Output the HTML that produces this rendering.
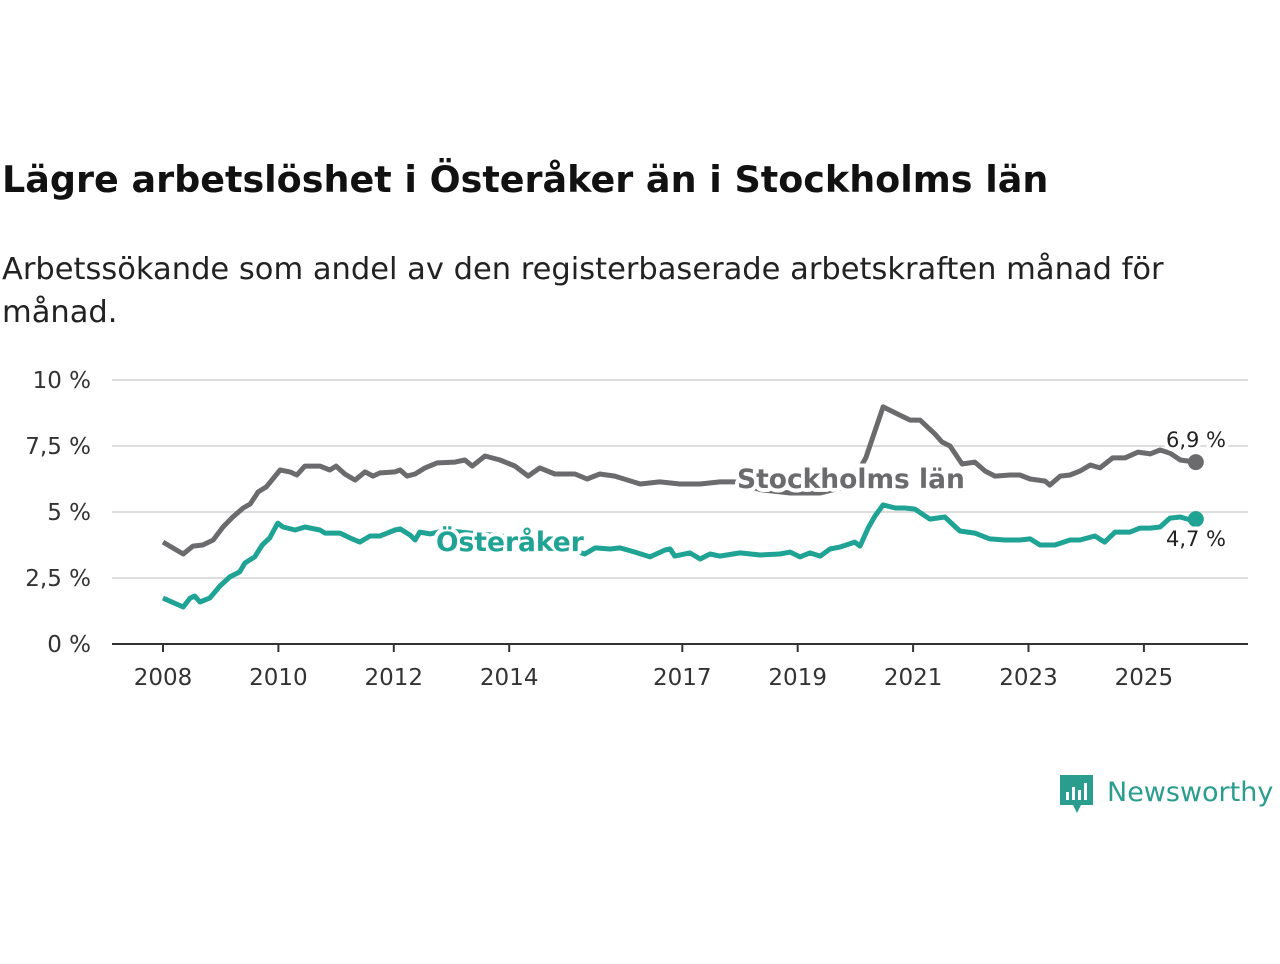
<!DOCTYPE html>
<html><head><meta charset="utf-8"><style>
body{margin:0;width:1280px;height:960px;background:#fff;font-family:"DejaVu Sans","Liberation Sans",sans-serif;overflow:hidden}
</style></head><body>
<svg width="1280" height="960" id="chart" font-family="DejaVu Sans, Liberation Sans, sans-serif">
<text x="2" y="192" font-size="36.5" font-weight="bold" fill="#111">Lägre arbetslöshet i Österåker än i Stockholms län</text>
<text font-size="30.5" fill="#222"><tspan x="2" y="279">Arbetssökande som andel av den registerbaserade arbetskraften månad för</tspan><tspan x="2" y="322">månad.</tspan></text>
<g id="grid"></g><g id="xaxis"></g><g id="lines"></g><g id="labels"></g>
<g transform="translate(1060,775)">
<path d="M0 0h33v30h-12l-4 8-4-8h-13z" fill="#2a9d8f"/>
<rect x="6" y="17" width="3" height="8" fill="#fff"/><rect x="12" y="12" width="3" height="13" fill="#fff"/><rect x="18" y="15" width="3" height="10" fill="#fff"/><rect x="24" y="8" width="3" height="17" fill="#fff"/>
<text x="47" y="26" font-size="27" fill="#2a9d8f">Newsworthy</text></g>
</svg>
<script>
const yTicks=[0,2.5,5,7.5,10];
const yTickLabels=["0 %","2,5 %","5 %","7,5 %","10 %"];
const xTicks=[2008,2010,2012,2014,2017,2019,2021,2023,2025];
const sthlmDates=[2008.00,2008.35,2008.52,2008.69,2008.87,2009.04,2009.21,2009.39,2009.51,2009.65,2009.79,2010.03,2010.20,2010.32,2010.46,2010.72,2010.89,2011.00,2011.15,2011.33,2011.50,2011.64,2011.76,2012.02,2012.11,2012.23,2012.37,2012.54,2012.75,2013.06,2013.23,2013.36,2013.58,2013.84,2014.10,2014.33,2014.53,2014.79,2015.14,2015.35,2015.57,2015.83,2016.27,2016.61,2016.96,2017.31,2017.65,2017.91,2018.35,2018.87,2019.39,2019.91,2020.18,2020.48,2020.77,2020.95,2021.12,2021.38,2021.50,2021.64,2021.85,2022.07,2022.25,2022.42,2022.68,2022.85,2023.03,2023.29,2023.37,2023.55,2023.72,2023.89,2024.07,2024.24,2024.46,2024.67,2024.90,2025.11,2025.28,2025.45,2025.63,2025.90];
const sthlmValues=[3.86,3.41,3.71,3.75,3.94,4.43,4.81,5.15,5.30,5.76,5.95,6.59,6.52,6.40,6.74,6.74,6.59,6.74,6.44,6.21,6.52,6.36,6.48,6.52,6.59,6.36,6.44,6.67,6.86,6.89,6.97,6.74,7.12,6.97,6.74,6.36,6.67,6.44,6.44,6.25,6.44,6.36,6.06,6.14,6.06,6.06,6.14,6.14,5.85,5.72,5.72,6.0,7.05,8.98,8.67,8.48,8.48,7.95,7.65,7.5,6.82,6.89,6.55,6.36,6.40,6.40,6.25,6.17,6.02,6.36,6.40,6.55,6.78,6.67,7.05,7.05,7.27,7.20,7.35,7.23,6.97,6.89];
const ostDates=[2008.00,2008.35,2008.47,2008.55,2008.64,2008.81,2008.99,2009.16,2009.33,2009.42,2009.59,2009.72,2009.85,2009.99,2010.08,2010.29,2010.46,2010.72,2010.81,2011.07,2011.24,2011.41,2011.59,2011.76,2012.02,2012.11,2012.28,2012.37,2012.45,2012.63,2012.89,2013.32,2013.84,2014.36,2014.88,2015.31,2015.49,2015.75,2015.92,2016.18,2016.44,2016.70,2016.79,2016.87,2017.13,2017.31,2017.48,2017.65,2018.00,2018.35,2018.69,2018.87,2019.04,2019.21,2019.39,2019.56,2019.73,2019.99,2020.08,2020.22,2020.34,2020.48,2020.69,2020.86,2021.03,2021.29,2021.55,2021.81,2022.07,2022.33,2022.59,2022.85,2023.03,2023.20,2023.46,2023.72,2023.89,2024.15,2024.32,2024.50,2024.76,2024.93,2025.11,2025.28,2025.45,2025.63,2025.80,2025.90];
const ostValues=[1.74,1.40,1.74,1.82,1.59,1.74,2.20,2.54,2.73,3.07,3.30,3.75,4.02,4.58,4.43,4.32,4.43,4.32,4.20,4.20,4.02,3.86,4.09,4.09,4.32,4.36,4.13,3.94,4.24,4.17,4.3,4.2,4.1,3.9,3.7,3.41,3.64,3.60,3.64,3.48,3.30,3.56,3.60,3.33,3.45,3.22,3.41,3.33,3.45,3.37,3.41,3.48,3.30,3.45,3.33,3.60,3.67,3.86,3.71,4.39,4.85,5.27,5.15,5.15,5.11,4.73,4.81,4.28,4.20,3.98,3.94,3.94,3.98,3.75,3.75,3.94,3.94,4.09,3.86,4.24,4.24,4.39,4.39,4.43,4.77,4.81,4.70,4.73];
const NS="http://www.w3.org/2000/svg";
const X=y=>163+(y-2008)*57.7, Y=v=>644-v*26.4;
function mk(tag,attrs,parent,text){const e=document.createElementNS(NS,tag);for(const k in attrs)e.setAttribute(k,attrs[k]);if(text!==undefined)e.textContent=text;document.getElementById(parent).appendChild(e);return e;}
yTicks.forEach((t,i)=>{
 const l=mk('line',{x1:112,x2:1248,y1:Y(t),y2:Y(t),stroke:t===0?'#333':'#ddd','stroke-width':2},'grid');
 
 
 const tx=mk('text',{x:91,y:Y(t)+8,'text-anchor':'end','font-size':23,fill:'#333'},'grid',yTickLabels[i]);
 
 
});
xTicks.forEach(t=>{
 const l=mk('line',{x1:X(t),x2:X(t),y1:644,y2:652,stroke:'#333','stroke-width':2},'xaxis');
 
 
 const tx=mk('text',{x:X(t),y:685,'text-anchor':'middle','font-size':23,fill:'#333'},'xaxis',String(t));
 
 
});
function line(d,v,color,name){
 const p=mk('path',{d:d.map((t,i)=>(i?'L':'M')+X(t).toFixed(1)+' '+Y(v[i]).toFixed(1)).join(''),fill:'none',stroke:color,'stroke-width':5,'stroke-linejoin':'round'},'lines');
 
 
 const c=mk('circle',{cx:X(d[d.length-1]),cy:Y(v[v.length-1]),r:8,fill:color},'lines');
 
 
}
line(sthlmDates,sthlmValues,'#6b6b6e','stockholm');
line(ostDates,ostValues,'#1fa394','osteraker');
function lab(x,y,txt,color,size,weight,anchor,name){
 const t=mk('text',{x:x,y:y,fill:color,'font-size':size,'font-weight':weight,'text-anchor':anchor,stroke:'#fff','stroke-width':8,'paint-order':'stroke','stroke-linejoin':'round'},'labels',txt);
 
 
}
lab(737,488,'Stockholms län','#6b6b6e',26.5,'bold','start','stockholm-label');
lab(436,551,'Österåker','#1fa394',26.5,'bold','start','osteraker-label');
lab(1196,447,'6,9 %','#222',21,'normal','middle','stockholm-end-value');
lab(1196,546,'4,7 %','#222',21,'normal','middle','osteraker-end-value');
</script>
</body></html>
